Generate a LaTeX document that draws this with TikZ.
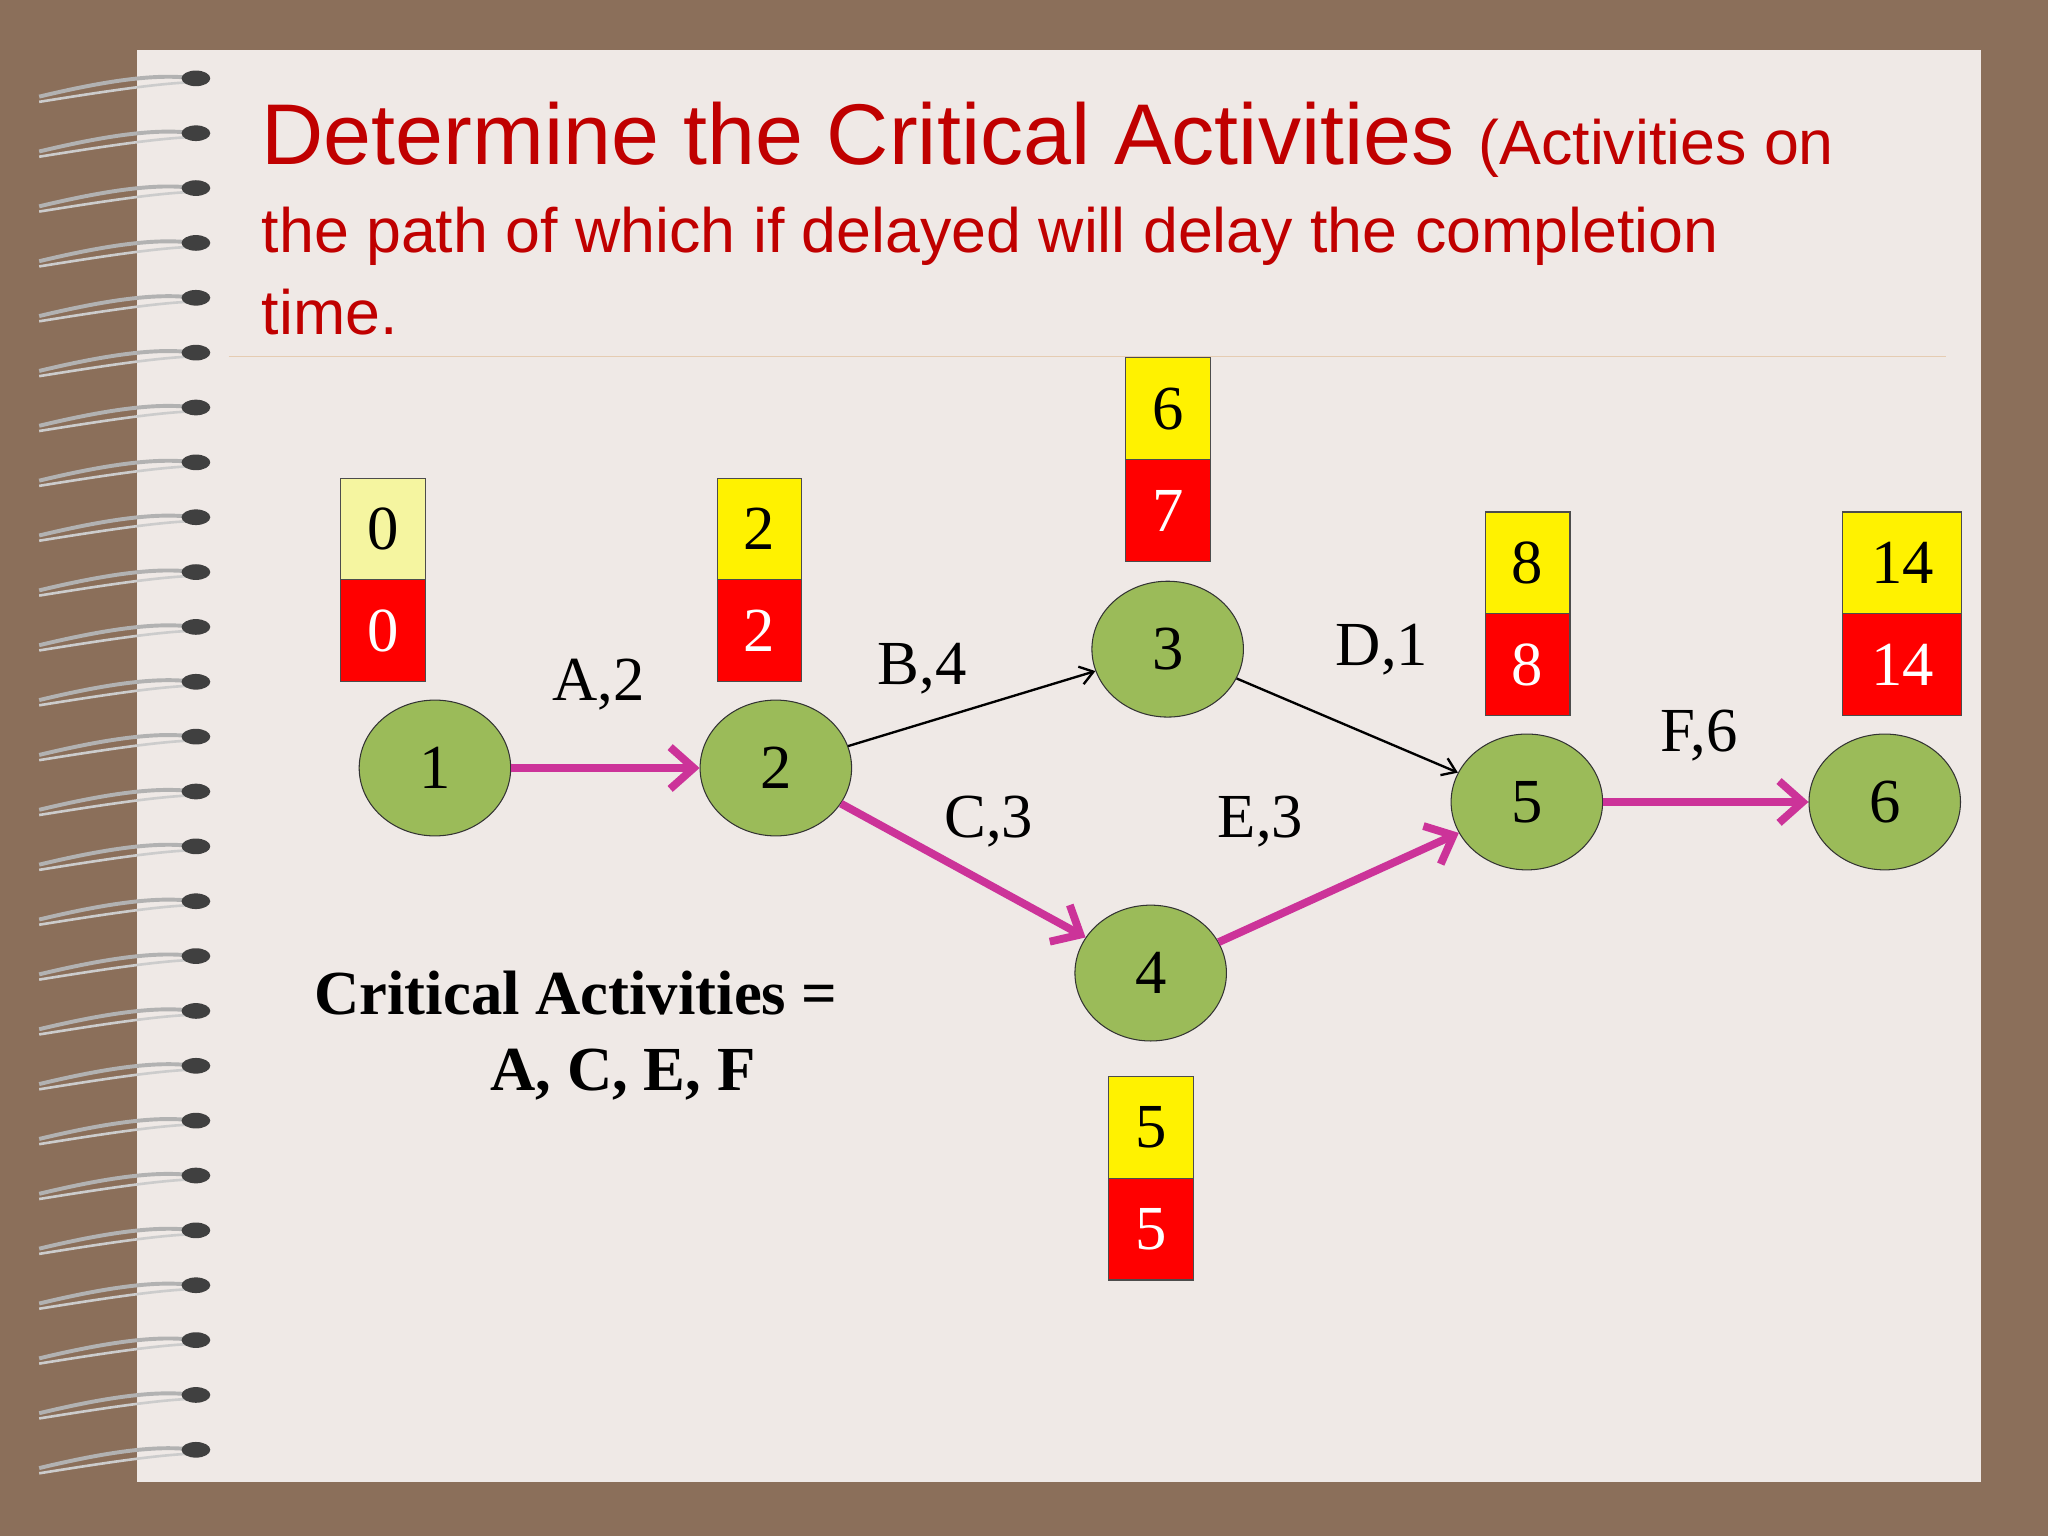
\documentclass[tikz,border=0pt]{standalone}
\usepackage{fontspec}
\setmainfont{Liberation Serif}
\newfontfamily\titlefont{Liberation Sans}
\usetikzlibrary{arrows.meta,shapes.geometric}
\definecolor{brownbg}{HTML}{8B6F5A}
\definecolor{pagebg}{HTML}{EFE9E6}
\definecolor{ttl}{HTML}{C00000}
\definecolor{nodeg}{HTML}{9BBB59}
\definecolor{crit}{HTML}{CC3399}
\definecolor{pale}{HTML}{F5F5A0}
\tikzset{
 ev/.style={ellipse,draw=black!80,fill=nodeg,minimum width=58pt,minimum height=52pt,font=\fontsize{24}{24}\selectfont},
 ybox/.style={draw=black!70,fill=yellow,minimum width=32.5pt,minimum height=39pt,inner sep=0pt,font=\fontsize{24}{24}\selectfont},
 rbox/.style={draw=black!70,fill=red,text=white,minimum width=32.5pt,minimum height=39pt,inner sep=0pt,font=\fontsize{24}{24}\selectfont},
 lbl/.style={font=\fontsize{24}{24}\selectfont},
 critarrow/.style={crit,line width=3pt,-{Straight Barb[length=9pt,width=16pt,line width=3pt]}},
 normarrow/.style={black,line width=0.9pt,-{Straight Barb[length=5pt,width=7pt]}}
}
\begin{document}
\begin{tikzpicture}[x=0.5pt,y=-0.5pt]
\useasboundingbox (0,0) rectangle (1568,1176);
\fill[brownbg] (0,0) rectangle (1568,1176);
\fill[pagebg] (105,38) rectangle (1517,1135);
\foreach \y in {60,102,...,1110}{
 \draw[gray!60,line width=1.5pt] (30,\y+14) .. controls (80,\y+2) and (120,\y-4) .. (148,\y);
 \draw[gray!40!white,line width=1pt] (30,\y+18) .. controls (80,\y+10) and (120,\y+4) .. (146,\y+3);
 \fill[black!75] (150,\y) ellipse (11 and 6);
}
\node[anchor=base west,text=ttl,inner sep=0pt] (t1) at (200,126) {\titlefont\fontsize{33}{33}\selectfont Determine the Critical Activities \fontsize{24}{24}\selectfont(Activities on};
\node[anchor=base west,text=ttl,inner sep=0pt] (t2) at (200,193) {\titlefont\fontsize{24}{24}\selectfont the path of which if delayed will delay the completion};
\node[anchor=base west,text=ttl,inner sep=0pt] (t3) at (200,256) {\titlefont\fontsize{24}{24}\selectfont time.};
\draw[brown!40,line width=0.5pt] (175,273) -- (1490,273);

\node[ev] (n1) at (333,588) {1};
\node[ev] (n2) at (594,588) {2};
\node[ev] (n3) at (894,497) {3};
\node[ev] (n4) at (881,745) {4};
\node[ev] (n5) at (1169,614) {5};
\node[ev] (n6) at (1443,614) {6};

\node[ybox,fill=pale] (e1) at (293.5,405) {0};
\node[rbox] (l1) at (293.5,483) {0};
\node[ybox] (e2) at (581.5,405) {2};
\node[rbox] (l2) at (581.5,483) {2};
\node[ybox] (e3) at (894.5,313) {6};
\node[rbox] (l3) at (894.5,391) {7};
\node[ybox] (e4) at (881.5,863) {5};
\node[rbox] (l4) at (881.5,941) {5};
\node[ybox] (e5) at (1169.5,431) {8};
\node[rbox] (l5) at (1169.5,509) {8};
\node[ybox,minimum width=45.5pt] (e6) at (1456.5,431) {14};
\node[rbox,minimum width=45.5pt] (l6) at (1456.5,509) {14};

\draw[critarrow] (n1) -- (n2);
\draw[normarrow] (n2) -- (n3);
\draw[critarrow] (n2) -- (n4);
\draw[normarrow] (n3) -- (n5);
\draw[critarrow] (n4) -- (n5);
\draw[critarrow] (n5) -- (n6);

\node[lbl] (la) at (458,524) {A,2};
\node[lbl] (lb) at (706,512) {B,4};
\node[lbl] (lc) at (757,629) {C,3};
\node[lbl] (ld) at (1058,497) {D,1};
\node[lbl] (le) at (965,629) {E,3};
\node[lbl] (lf) at (1301,563) {F,6};

\node[font=\bfseries\fontsize{24}{24}\selectfont] (ca) at (441,760) {Critical Activities =};
\node[font=\bfseries\fontsize{24}{24}\selectfont] (cb) at (477,823) {A, C, E, F};
\end{tikzpicture}
\end{document}
